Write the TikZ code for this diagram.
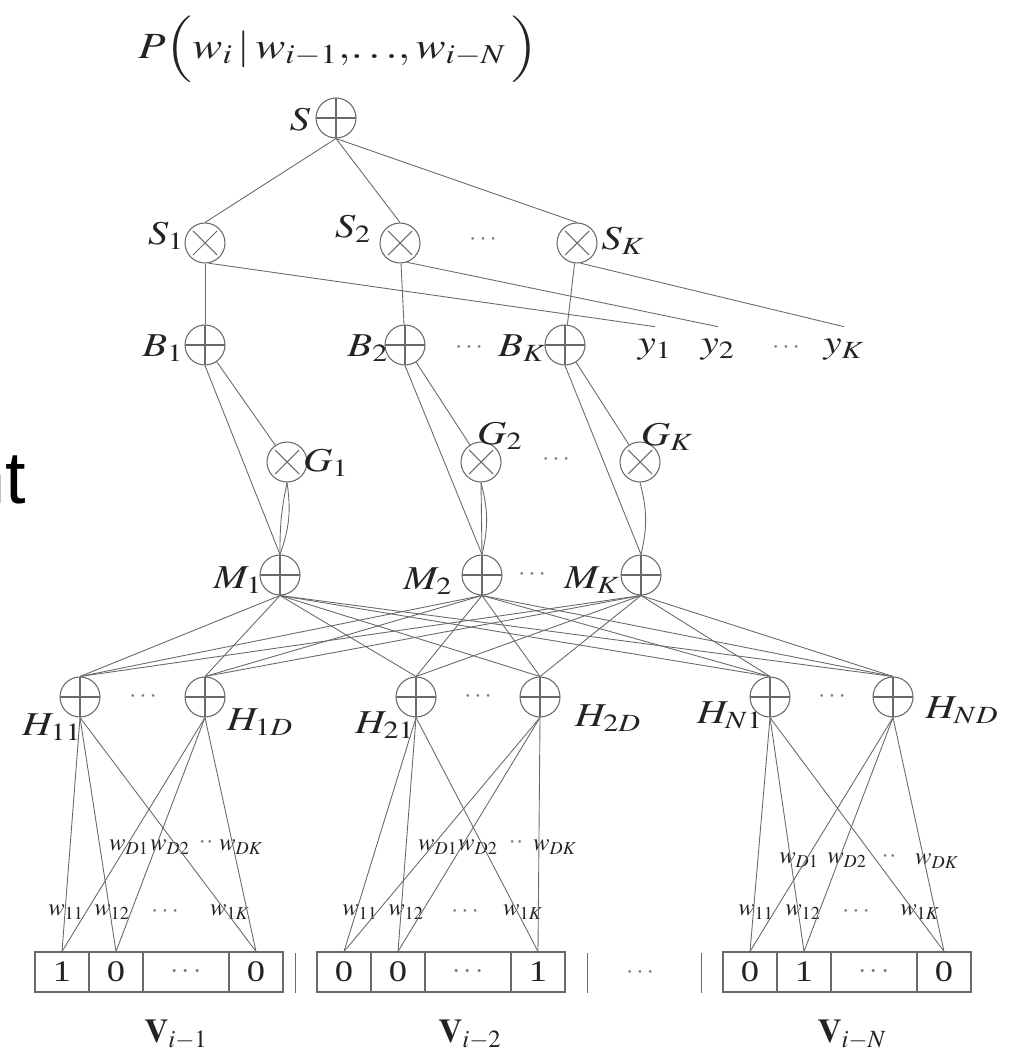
\documentclass[tikz,border=0pt]{standalone}
\usepackage{mathptmx}
\usepackage{fontspec}
\setmainfont{Liberation Serif}
\newfontfamily\sansfont{Liberation Sans}
\usepackage{tikz}
\usetikzlibrary{positioning, calc}
\definecolor{mygray}{RGB}{105,105,105}
\definecolor{mydark}{RGB}{35,35,35}
\definecolor{mydots}{RGB}{125,125,125}
\newcommand{\wx}[1]{\scalebox{1.22}[1]{#1}}
\tikzset{
  sumnode/.style={circle, draw=mygray, line width=0.6pt,
    minimum size=0.8cm, inner sep=0pt,
    path picture={\draw[mygray, line width=0.6pt]
      (path picture bounding box.north) -- (path picture bounding box.south)
      (path picture bounding box.west) -- (path picture bounding box.east);}},
  prodnode/.style={circle, draw=mygray, line width=0.6pt,
    minimum size=0.8cm, inner sep=0pt,
    path picture={\draw[mygray, line width=0.6pt,
      shift={(path picture bounding box.center)}]
      (-12,-12) -- (12,12) (-12,12) -- (12,-12);}},
  lbl/.style={text=mydark, inner sep=0pt, font=\fontsize{19}{22}\selectfont},
  wlbl/.style={text=mydark, inner sep=0pt, font=\fontsize{14}{16}\selectfont},
  dotlbl/.style={text=mydots, inner sep=0pt, font=\fontsize{15}{18}\selectfont},
  cell/.style={rectangle, draw=mygray, line width=0.6pt, minimum height=0.8cm,
    inner sep=0pt, text=mydark, font=\fontsize{17}{20}\selectfont},
  wire/.style={draw=mygray, line width=0.5pt}
}

\begin{document}
\begin{tikzpicture}[x=0.02cm, y=-0.02cm]
  \useasboundingbox (0,0) rectangle (1011,1053);

  % output probability
  \node[lbl, font=\fontsize{21}{25}\selectfont] (title) at (338,49)
    {\wx{$P\Bigl(w_i\,|\,w_{i-1}{,}{\ldots}{,}\,w_{i-N}\,\Bigr)$}};

  % cut-off text at the left border
  \node[anchor=base east, inner sep=0pt, font=\sansfont\fontsize{42}{48}\selectfont] (frag) at (26.5,503) {nt};

  % top sum and class products
  \node[sumnode] (S) at (336,118) {};
  \node[prodnode] (S1) at (205,243) {};
  \node[prodnode] (S2) at (400,243) {};
  \node[prodnode] (SK) at (577,243) {};
  \node[lbl] at ($(S)+(-36,2)$) {\wx{$S$}};
  \node[lbl] at ($(S1)+(-39,-7)$) {\wx{$S_1$}};
  \node[lbl] at ($(S2)+(-47,-14)$) {\wx{$S_2$}};
  \node[lbl] at ($(SK)+(46,-2)$) {\wx{$S_K$}};
  \node[dotlbl] at (483,240) {$\cdots$};

  % class sums and targets
  \node[sumnode] (B1) at (205,345) {};
  \node[sumnode] (B2) at (405,345) {};
  \node[sumnode] (BK) at (565,345) {};
  \node[lbl] at ($(B1)+(-42,3)$) {\wx{$B_1$}};
  \node[lbl] at ($(B2)+(-37,3)$) {\wx{$B_2$}};
  \node[lbl] at ($(BK)+(-43,3)$) {\wx{$B_K$}};
  \node[dotlbl] at (469,348) {$\cdots$};
  \node[lbl] (y1) at (655,350) {\wx{$y_1$}};
  \node[lbl] (y2) at (718,350) {\wx{$y_2$}};
  \node[lbl] (yK) at (844,350) {\wx{$y_K$}};
  \node[dotlbl] at (786,348) {$\cdots$};

  % gates
  \node[prodnode] (G1) at (287,462) {};
  \node[prodnode] (G2) at (481,462) {};
  \node[prodnode] (GK) at (640,462) {};
  \node[lbl] at ($(G1)+(39,1)$) {\wx{$G_1$}};
  \node[lbl] at ($(G2)+(19,-26)$) {\wx{$G_2$}};
  \node[lbl] at ($(GK)+(27,-25)$) {\wx{$G_K$}};
  \node[dotlbl] at (556,460) {$\cdots$};

  % mixtures
  \node[sumnode] (M1) at (280,575) {};
  \node[sumnode] (M2) at (482,575) {};
  \node[sumnode] (MK) at (641,575) {};
  \node[lbl] at ($(M1)+(-42,5)$) {\wx{$M_1$}};
  \node[lbl] at ($(M2)+(-54,6)$) {\wx{$M_2$}};
  \node[lbl] at ($(MK)+(-49,5)$) {\wx{$M_K$}};
  \node[dotlbl] at (532,575) {$\cdots$};

  % hidden sums
  \node[sumnode] (H11) at (80,697) {};
  \node[sumnode] (H1D) at (205,697) {};
  \node[sumnode] (H21) at (416,697) {};
  \node[sumnode] (H2D) at (540,697) {};
  \node[sumnode] (HN1) at (770,697) {};
  \node[sumnode] (HND) at (893,697) {};
  \node[lbl] at ($(H11)+(-28,30)$) {\wx{$H_{11}$}};
  \node[lbl] at ($(H1D)+(55,25)$) {\wx{$H_{1D}$}};
  \node[lbl] at ($(H21)+(-31,28)$) {\wx{$H_{21}$}};
  \node[lbl] at ($(H2D)+(68,21)$) {\wx{$H_{2D}$}};
  \node[lbl] at ($(HN1)+(-40,18)$) {\wx{$H_{N1}$}};
  \node[lbl] at ($(HND)+(69,13)$) {\wx{$H_{ND}$}};
  \node[dotlbl] at (143,697) {$\cdots$};
  \node[dotlbl] at (478,697) {$\cdots$};
  \node[dotlbl] at (832,697) {$\cdots$};

  % one-hot input vectors
  \foreach \g/\sx/\a/\b/\d in {1/35/1/0/0, 2/317/0/0/1, 3/723/0/1/0} {
    \node[cell, minimum width=1.08cm] (c\g1) at (\sx+27,972) {\wx{\a}};
    \node[cell, minimum width=1.08cm] (c\g2) at (\sx+81,972) {\wx{\b}};
    \node[cell, minimum width=1.72cm, text=mydots] (c\g3) at (\sx+151,972) {$\cdots$};
    \node[cell, minimum width=1.08cm] (c\g4) at (\sx+221,972) {\wx{\d}};
  }
  \draw[wire] (295,953) -- (295,993);
  \draw[wire] (587,953) -- (587,993);
  \draw[wire] (701,953) -- (701,993);
  \node[dotlbl] at (640,973) {$\cdots$};
  \node[lbl] at (176,1035) {$\mathbf{V}_{i-1}$};
  \node[lbl] at (470,1035) {$\mathbf{V}_{i-2}$};
  \node[lbl] at (852,1035) {$\mathbf{V}_{i-N}$};

  % weight labels
  \node[wlbl] at (66,912) {$w_{11}$};
  \node[wlbl] at (112,912) {$w_{12}$};
  \node[dotlbl] at (165,912) {$\cdots$};
  \node[wlbl] at (230,912) {$w_{1K}$};
  \node[wlbl] at (129,847) {$w_{D1}$};
  \node[wlbl] at (170,847) {$w_{D2}$};
  \node[dotlbl] at (206,843) {$\cdot\cdot$};
  \node[wlbl] at (241,847) {$w_{DK}$};

  \node[wlbl] at (360,912) {$w_{11}$};
  \node[wlbl] at (406,912) {$w_{12}$};
  \node[dotlbl] at (465,912) {$\cdots$};
  \node[wlbl] at (523,912) {$w_{1K}$};
  \node[wlbl] at (438,847) {$w_{D1}$};
  \node[wlbl] at (478,847) {$w_{D2}$};
  \node[dotlbl] at (516,843) {$\cdot\cdot$};
  \node[wlbl] at (555,847) {$w_{DK}$};

  \node[wlbl] at (756,912) {$w_{11}$};
  \node[wlbl] at (803,912) {$w_{12}$};
  \node[dotlbl] at (856,912) {$\cdots$};
  \node[wlbl] at (920,912) {$w_{1K}$};
  \node[wlbl] at (799,860) {$w_{D1}$};
  \node[wlbl] at (847,860) {$w_{D2}$};
  \node[dotlbl] at (889,857) {$\cdot\cdot$};
  \node[wlbl] at (937,861) {$w_{DK}$};

  % connections
  \foreach \s in {S1,S2,SK} \draw[wire] (S.south) -- (\s.north);
  \draw[wire] (S1.-80) -- ([yshift=7pt]y1.north);
  \draw[wire] (S2.-70) -- ([yshift=7pt]y2.north);
  \draw[wire] (SK.-80) -- ([yshift=7pt]yK.north);
  \foreach \k in {1,2,K} {
    \draw[wire] (S\k) -- (B\k);
    \draw[wire] (B\k) -- (G\k);
    \draw[wire] (B\k.south) -- (M\k.north);
  }
  \draw[wire] (G1.south) to[bend right=6] (M1.north);
  \draw[wire] (G1.south) to[bend left=14] (M1.north);
  \draw[wire] (G2.south) -- (M2.north);
  \draw[wire] (G2.south) to[bend left=14] (M2.north);
  \draw[wire] (GK.south) to[bend left=14] (MK.north);
  \foreach \m in {M1,M2,MK}
    \foreach \h in {H11,H1D,H21,H2D,HN1,HND}
      \draw[wire] (\m.south) -- (\h.north);
  \foreach \h/\g in {H11/1, H1D/1, H21/2, H2D/2, HN1/3, HND/3}
    \foreach \c in {1,2,4}
      \draw[wire] (\h.south) -- (c\g\c.north);
\end{tikzpicture}
\end{document}
